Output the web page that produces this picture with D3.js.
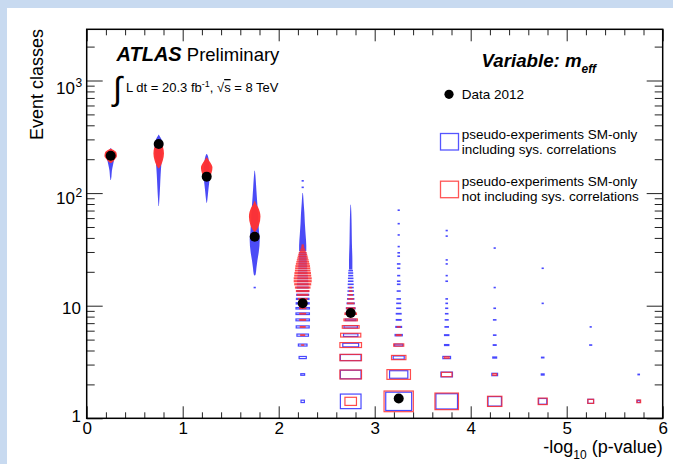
<!DOCTYPE html>
<html><head><meta charset="utf-8">
<script src="https://cdn.jsdelivr.net/npm/d3@7"></script>
<style>
html,body{margin:0;padding:0;background:#fff;}
svg{display:block;font-family:"Liberation Sans",Arial,Helvetica,sans-serif;}
</style></head><body><svg id="c" width="673" height="464"></svg>
<script>
// ---------------- data ----------------
const xTickValues = [0, 1, 2, 3, 4, 5, 6];
const yTickValues = [1, 10, 100, 1000];
const yTickLabels = [["1", ""], ["10", ""], ["10", "2"], ["10", "3"]];
const binWidth = 0.5;

// Data 2012 points: [x, y]
const dataX = [0.25, 0.75, 1.25, 1.75, 2.25, 2.75, 3.25];
const dataY = [215, 273, 140, 41, 10.5, 8.6, 1.5];

// dense regions (many tiny bins): [columnX, [[eventClasses, relative box size], ...]]
const blueProfiles = [
  [0.25, [[250,.01],[242,.06],[228,.14],[210,.17],[192,.13],[175,.09],[158,.05],[140,.03],[131,.01]]],
  [0.75, [[330,.01],[318,.05],[300,.12],[270,.17],[225,.15],[180,.11],[145,.08],[118,.06],[97,.04],[83,.02],[77,.01]]],
  [1.25, [[222,.01],[213,.05],[192,.09],[165,.12],[137,.12],[117,.09],[102,.06],[88,.03],[82,.01]]],
  [1.75, [[158,.01],[143,.03],[115,.06],[92,.09],[65,.14],[45,.18],[39,.21],[30,.17],[25,.11],[21.5,.07],[19,.04],[18.5,.01]]],
  [2.25, [[100,.01],[95,.02],[82,.04],[67,.07],[54,.09],[43,.12],[34,.15],[30.5,.15]]],
  [2.75, [[79,.01],[68,.025],[50,.04],[36,.05],[25,.07],[21,.07]]]
];
const redProfiles = [
  [0.25, [[248,.02],[241,.12],[228,.24],[213,.26],[198,.16],[188,.06],[185,.01]]],
  [0.75, [[281,.01],[272,.08],[255,.18],[225,.22],[195,.17],[178,.1],[169,.04],[166,.01]]],
  [1.25, [[207,.01],[200,.06],[187,.15],[169,.24],[151,.2],[140,.1],[136,.01]]],
  [1.75, [[85,.01],[81,.05],[74,.15],[62,.24],[52,.18],[47,.08],[45,.01]]]
];

// individual bins: [columnX, bin lower edge, relative box size]
const blueBins = [
  [1.75,14,.02],
  [2.25,1,.07],[2.25,2,.08],[2.25,3,.15],[2.25,4,.18],[2.25,5,.24],[2.25,6,.27],[2.25,7,.28],[2.25,8,.28],[2.25,9,.28],
  [2.25,10,.27],[2.25,11,.26],[2.25,12,.25],[2.25,13,.24],[2.25,14,.23],[2.25,15,.22],[2.25,16,.21],[2.25,17,.2],
  [2.25,18,.19],[2.25,19,.18],[2.25,20,.17],[2.25,21,.16],[2.25,22,.16],[2.25,23,.15],[2.25,24,.15],[2.25,25,.14],
  [2.25,26,.14],[2.25,27,.13],[2.25,28,.13],[2.25,29,.12],[2.25,112,.02],[2.25,128,.02],
  [2.75,1,.43],[2.75,2,.43],[2.75,3,.43],[2.75,4,.33],[2.75,5,.3],[2.75,6,.28],[2.75,7,.22],[2.75,8,.2],[2.75,9,.18],
  [2.75,10,.15],[2.75,11,.13],[2.75,12,.12],[2.75,13,.11],[2.75,14,.1],[2.75,15,.1],[2.75,16,.09],[2.75,17,.09],
  [2.75,18,.08],[2.75,19,.08],[2.75,20,.07],
  [3.25,1,.54],[3.25,2,.38],[3.25,3,.23],[3.25,4,.17],[3.25,5,.15],[3.25,6,.12],[3.25,7,.1],[3.25,8,.1],[3.25,9,.08],
  [3.25,10,.08],[3.25,11,.07],[3.25,13,.06],[3.25,15,.05],[3.25,16,.05],[3.25,18,.04],[3.25,21,.04],[3.25,23,.05],
  [3.25,27,.03],[3.25,29,.03],[3.25,33,.02],[3.25,42,.02],[3.25,53,.02],[3.25,70,.02],
  [3.75,1,.45],[3.75,2,.24],[3.75,3,.16],[3.75,4,.09],[3.75,5,.09],[3.75,6,.07],[3.75,7,.06],[3.75,8,.05],[3.75,9,.04],
  [3.75,10,.03],[3.75,11,.03],[3.75,16,.03],[3.75,18,.02],[3.75,23,.02],[3.75,25,.02],[3.75,41,.02],[3.75,46,.02],
  [4.25,1,.28],[4.25,2,.12],[4.25,3,.08],[4.25,4,.06],[4.25,5,.05],[4.25,7,.05],[4.25,9,.03],[4.25,14,.02],[4.25,32,.02],
  [4.75,1,.17],[4.75,2,.06],[4.75,3,.05],[4.75,10,.02],[4.75,21,.02],
  [5.25,1,.12],[5.25,4,.04],[5.25,6,.02],
  [5.75,1,.06],[5.75,2,.03]
];
const redBins = [
  [2.25,4,.04],[2.25,5,.08],[2.25,6,.1],[2.25,7,.12],[2.25,8,.12],[2.25,9,.13],[2.25,10,.15],[2.25,11,.18],[2.25,12,.22],
  [2.25,13,.26],[2.25,14,.3],[2.25,15,.33],[2.25,16,.35],[2.25,17,.35],[2.25,18,.33],[2.25,19,.32],[2.25,20,.3],
  [2.25,21,.29],[2.25,22,.28],[2.25,23,.26],[2.25,24,.24],[2.25,25,.22],[2.25,26,.2],[2.25,27,.18],[2.25,28,.16],
  [2.25,29,.14],[2.25,30,.1],[2.25,31,.07],[2.25,32,.05],[2.25,33,.03],[2.25,34,.02],
  [2.75,1,.24],[2.75,2,.45],[2.75,3,.45],[2.75,4,.45],[2.75,5,.42],[2.75,6,.35],[2.75,7,.28],[2.75,8,.24],[2.75,9,.17],
  [2.75,10,.13],[2.75,11,.1],[2.75,12,.07],[2.75,13,.05],[2.75,14,.03],
  [3.25,1,.61],[3.25,2,.49],[3.25,3,.3],[3.25,4,.21],[3.25,5,.1],[3.25,6,.06],
  [3.75,1,.49],[3.75,2,.22],[3.75,3,.1],
  [4.25,1,.3],[4.25,2,.08],
  [4.75,1,.19],
  [5.25,1,.12],
  [5.75,1,.08]
];

// ---------------- layout ----------------
const W = 673, H = 464;
const L = 86.7, R = 662.7, T = 29.3, B = 418.3;
const yMax = Math.pow(10, (B - T) / 112.6);
const BLUE = "rgba(40,40,255,0.85)", RED = "rgba(255,45,45,0.85)";

const svg = d3.select("#c");
svg.append("rect").attr("width", W).attr("height", H).attr("fill", "#c8daf0");
svg.append("rect").attr("x", 7).attr("y", 8).attr("width", W - 7).attr("height", H - 8).attr("fill", "#fff");

const x = d3.scaleLinear().domain([0, 6]).range([L, R]);
const y = d3.scaleLog().domain([1, yMax]).range([B, T]);
const binPx = x(binWidth) - x(0);

const plot = svg.append("g");
plot.append("clipPath").attr("id", "clip").append("rect")
  .attr("x", L).attr("y", T).attr("width", R - L).attr("height", B - T);
const g = plot.append("g").attr("clip-path", "url(#clip)");

function drawProfiles(profiles, color) {
  profiles.forEach(([xc, knots]) => {
    const area = d3.area()
      .y(d => y(d[0]))
      .x0(d => x(xc) - d[1] * binPx / 2)
      .x1(d => x(xc) + d[1] * binPx / 2)
      .curve(d3.curveMonotoneY);
    g.append("path").attr("d", area(knots)).attr("fill", color);
  });
}
function drawBins(bins, color) {
  g.append("g").selectAll("rect").data(bins).join("rect")
    .each(function (d) {
      const [xc, n, r] = d;
      const y0 = y(n), y1 = y(n + 1);
      const cy = (y0 + y1) / 2;
      const w = Math.max(r * binPx, 1);
      const h = Math.max(r * (y0 - y1), 0.4);
      d3.select(this).attr("x", x(xc) - w / 2).attr("y", cy - h / 2)
        .attr("width", w).attr("height", h);
    })
    .attr("fill", "none").attr("stroke", color).attr("stroke-width", 1.2);
}
drawProfiles(blueProfiles, "rgba(50,50,245,0.88)");
drawBins(blueBins, BLUE);
drawProfiles(redProfiles, "rgba(255,50,50,0.97)");
drawBins(redBins, RED);

g.append("g").selectAll("circle").data(dataX).join("circle")
  .attr("cx", d => x(d)).attr("cy", (d, i) => y(dataY[i])).attr("r", 5).attr("fill", "#000");

// ---------------- axes ----------------
const xMinor = d3.range(0, 6.001, 0.2).filter(v => Math.abs(v - Math.round(v)) > 1e-6);
const yMinor = [];
[1, 10, 100, 1000].forEach(dec => { for (let k = 2; k <= 9; k++) if (dec * k < yMax) yMinor.push(dec * k); });

function styleAxis(sel) {
  sel.select(".domain").remove();
  sel.selectAll(".tick line").attr("stroke", "#222").attr("stroke-width", 1);
}
svg.append("g").attr("transform", `translate(0,${B})`)
  .call(d3.axisBottom(x).tickValues(xTickValues).tickSize(-12).tickPadding(4).tickFormat(d3.format("d")))
  .call(styleAxis)
  .call(s => s.selectAll("text").attr("font-size", 17).attr("fill", "#000")
    .attr("font-family", '"Liberation Sans",Arial,sans-serif'));
svg.append("g").attr("transform", `translate(0,${B})`)
  .call(d3.axisBottom(x).tickValues(xMinor).tickSize(-6).tickFormat("")).call(styleAxis);
svg.append("g").attr("transform", `translate(0,${T})`)
  .call(d3.axisTop(x).tickValues(xTickValues).tickSize(-12).tickFormat("")).call(styleAxis);
svg.append("g").attr("transform", `translate(0,${T})`)
  .call(d3.axisTop(x).tickValues(xMinor).tickSize(-6).tickFormat("")).call(styleAxis);

svg.append("g").attr("transform", `translate(${L},0)`)
  .call(d3.axisLeft(y).tickValues(yTickValues).tickSize(-16).tickFormat("")).call(styleAxis);
svg.append("g").attr("transform", `translate(${L},0)`)
  .call(d3.axisLeft(y).tickValues(yMinor).tickSize(-8).tickFormat("")).call(styleAxis);
svg.append("g").attr("transform", `translate(${R},0)`)
  .call(d3.axisRight(y).tickValues(yTickValues).tickSize(-16).tickFormat("")).call(styleAxis);
svg.append("g").attr("transform", `translate(${R},0)`)
  .call(d3.axisRight(y).tickValues(yMinor).tickSize(-8).tickFormat("")).call(styleAxis);

// y tick labels (10^n with superscript)
const yLabOffset = [-2, 2.5, 5, 7];
yTickValues.forEach((v, i) => {
  const [base, exp] = yTickLabels[i];
  svg.append("text").attr("x", exp ? 75 : 81).attr("y", y(v) + yLabOffset[i] + 6)
    .attr("text-anchor", "end").attr("font-size", 17).attr("fill", "#000").text(base);
  if (exp) {
    svg.append("text").attr("x", 75.5).attr("y", y(v) + yLabOffset[i] - 1)
      .attr("font-size", 12).attr("fill", "#000").text(exp);
  }
});

// frame
svg.append("rect").attr("x", L).attr("y", T).attr("width", R - L).attr("height", B - T)
  .attr("fill", "none").attr("stroke", "#000").attr("stroke-width", 1.5);

// axis titles
const xt = svg.append("text").attr("x", R).attr("y", 453).attr("text-anchor", "end")
  .attr("font-size", 18).attr("fill", "#000");
xt.append("tspan").text("-log");
xt.append("tspan").attr("font-size", 12).attr("dy", 6).text("10");
xt.append("tspan").attr("dy", -6).text(" (p-value)");

svg.append("text").attr("transform", "translate(43,29) rotate(-90)").attr("text-anchor", "end")
  .attr("font-size", 18).attr("fill", "#000").text("Event classes");

// ATLAS label
const at = svg.append("text").attr("x", 116.5).attr("y", 61).attr("fill", "#000");
at.append("tspan").attr("font-weight", "bold").attr("font-style", "italic").attr("font-size", 20).text("ATLAS");
at.append("tspan").attr("font-size", 18.5).text(" Preliminary");

svg.append("text").attr("x", 113).attr("y", 100).attr("font-size", 33).attr("fill", "#000").text("\u222B");
const lumi = svg.append("text").attr("x", 126).attr("y", 92).attr("font-size", 13).attr("fill", "#000");
lumi.append("tspan").text("L dt = 20.3 fb");
lumi.append("tspan").attr("font-size", 9).attr("dy", -5).text("-1");
lumi.append("tspan").attr("dy", 5).text(", \u221A");
lumi.append("tspan").attr("text-decoration", "overline").text("s");
lumi.append("tspan").text(" = 8 TeV");

const vt = svg.append("text").attr("x", 481.5).attr("y", 66.5).attr("fill", "#000")
  .attr("font-weight", "bold").attr("font-style", "italic").attr("font-size", 18.7);
vt.append("tspan").text("Variable: m");
vt.append("tspan").attr("font-size", 12).attr("dy", 6).text("eff");

// legend
svg.append("circle").attr("cx", 449).attr("cy", 94.3).attr("r", 4.6).attr("fill", "#000");
svg.append("text").attr("x", 461.7).attr("y", 99.3).attr("font-size", 13.5).attr("fill", "#000").text("Data 2012");
svg.append("rect").attr("x", 440.5).attr("y", 133.5).attr("width", 18).attr("height", 16.5)
  .attr("fill", "none").attr("stroke", "#5555ff").attr("stroke-width", 1.3);
svg.append("rect").attr("x", 440.5).attr("y", 181.2).attr("width", 18).attr("height", 16.5)
  .attr("fill", "none").attr("stroke", "#ff5555").attr("stroke-width", 1.3);
const legLines = [["pseudo-experiments SM-only", 139.3], ["including sys. correlations", 154],
                  ["pseudo-experiments SM-only", 185.7], ["not including sys. correlations", 200.7]];
legLines.forEach(([t, yy]) => svg.append("text").attr("x", 461.7).attr("y", yy)
  .attr("font-size", 13.5).attr("fill", "#000").text(t));
</script></body></html>
